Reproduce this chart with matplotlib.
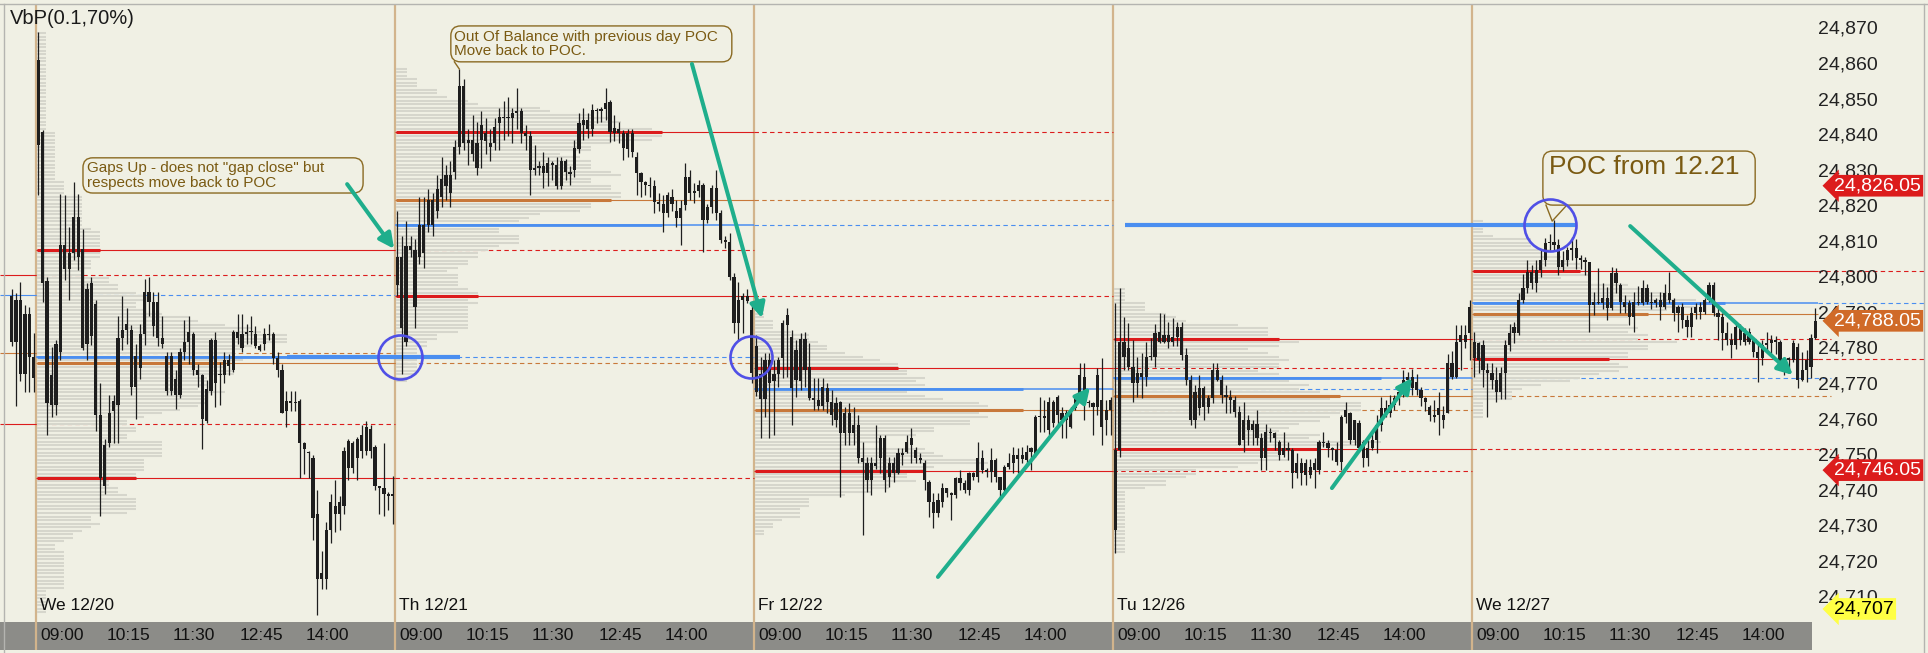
import numpy as np
import matplotlib
matplotlib.use("Agg")
import matplotlib.pyplot as plt
from matplotlib import font_manager
from matplotlib.patches import FancyBboxPatch, Rectangle
from matplotlib.lines import Line2D

# 5-minute bars, (open, high, low, close)
prev_bars = [  # end of 12/19
    (24795.0, 24797.0, 24781.0, 24782.0), (24782.0, 24796.0, 24764.0, 24794.0),
    (24794.0, 24799.0, 24771.0, 24773.0), (24773.0, 24792.5, 24768.0, 24790.0),
    (24790.0, 24792.0, 24768.0, 24778.0), (24778.0, 24784.6, 24768.0, 24772.0),
]
bars_1220 = [
    (24861.4, 24869.3, 24823.5, 24837.5), (24841.2, 24841.7, 24793.4, 24798.7), (24799.3, 24800.5, 24756.0, 24765.0),
    (24764.4, 24780.7, 24761.0, 24772.8), (24764.4, 24782.7, 24761.6, 24781.5), (24779.3, 24823.7, 24777.0, 24809.4),
    (24809.4, 24823.4, 24799.5, 24802.6), (24802.6, 24814.4, 24794.0, 24807.1), (24807.1, 24827.1, 24805.2, 24817.3),
    (24817.3, 24823.7, 24802.4, 24806.0), (24808.3, 24813.9, 24779.8, 24780.4), (24781.5, 24798.7, 24777.0, 24797.0),
    (24798.7, 24800.4, 24781.2, 24783.8), (24792.8, 24793.9, 24757.0, 24761.6), (24761.6, 24770.6, 24733.1, 24743.8),
    (24741.6, 24754.8, 24739.3, 24753.1), (24753.7, 24767.2, 24752.6, 24762.1), (24762.7, 24767.2, 24753.7, 24765.5),
    (24764.4, 24789.4, 24753.7, 24783.2), (24783.2, 24795.0, 24779.8, 24785.5), (24785.5, 24791.7, 24781.5, 24787.2),
    (24785.5, 24786.9, 24767.2, 24769.4), (24769.4, 24781.5, 24760.4, 24778.2), (24774.8, 24787.2, 24771.7, 24784.3),
    (24784.3, 24799.8, 24781.2, 24796.2), (24796.2, 24800.4, 24789.4, 24793.4), (24793.4, 24796.2, 24783.8, 24786.6),
    (24793.4, 24796.2, 24781.0, 24783.2), (24783.2, 24789.4, 24780.4, 24781.5), (24778.2, 24779.3, 24767.2, 24768.3),
    (24768.3, 24779.3, 24767.2, 24778.2), (24771.7, 24774.2, 24763.2, 24767.2), (24767.2, 24780.4, 24766.3, 24779.3),
    (24779.3, 24788.3, 24777.0, 24782.1), (24782.1, 24789.4, 24775.9, 24784.9), (24784.3, 24784.9, 24772.8, 24774.2),
    (24774.2, 24775.9, 24769.4, 24772.8), (24772.8, 24773.1, 24752.0, 24760.4), (24759.9, 24771.4, 24759.3, 24768.9),
    (24768.3, 24783.2, 24767.2, 24782.7), (24782.7, 24784.9, 24763.8, 24770.6), (24773.1, 24776.5, 24764.4, 24772.8),
    (24772.8, 24779.3, 24770.6, 24777.0), (24777.0, 24778.7, 24772.8, 24775.3), (24774.2, 24785.5, 24773.6, 24784.9),
    (24784.9, 24790.0, 24781.5, 24783.2), (24784.3, 24790.0, 24779.3, 24780.4), (24784.3, 24787.2, 24781.5, 24784.9),
    (24784.9, 24789.4, 24781.5, 24785.2), (24784.3, 24786.6, 24780.4, 24781.0), (24781.0, 24781.5, 24779.5, 24779.8),
    (24781.5, 24786.0, 24779.8, 24784.3), (24784.3, 24787.2, 24782.7, 24784.0), (24784.3, 24784.9, 24775.9, 24777.6),
    (24777.6, 24779.3, 24772.2, 24774.2), (24774.2, 24775.9, 24762.0, 24762.1), (24762.7, 24768.3, 24758.2, 24765.5),
    (24765.5, 24768.3, 24762.7, 24764.9), (24764.9, 24768.3, 24762.7, 24765.2), (24765.5, 24766.1, 24743.8, 24753.7),
    (24753.7, 24754.0, 24745.0, 24752.0), (24751.2, 24751.4, 24743.8, 24750.9), (24749.5, 24750.3, 24726.4, 24732.6),
    (24733.7, 24740.5, 24705.3, 24715.4), (24715.4, 24723.3, 24712.6, 24717.1), (24715.4, 24731.5, 24712.6, 24729.2),
    (24729.2, 24739.3, 24725.6, 24737.1), (24736.0, 24743.3, 24728.6, 24733.7), (24733.7, 24738.8, 24729.2, 24737.1),
    (24736.0, 24752.6, 24733.7, 24751.4), (24746.7, 24754.8, 24743.3, 24754.2), (24753.7, 24754.2, 24745.2, 24746.7),
    (24749.5, 24755.4, 24743.3, 24754.8), (24755.9, 24758.7, 24749.5, 24751.4), (24751.4, 24759.9, 24750.3, 24758.2),
    (24757.6, 24758.7, 24749.5, 24751.4), (24752.6, 24753.1, 24740.5, 24741.6), (24741.6, 24741.6, 24733.7, 24741.0),
    (24741.0, 24753.7, 24733.1, 24739.3), (24739.3, 24739.9, 24734.8, 24738.8), (24738.8, 24744.4, 24730.9, 24739.3),
]
bars_1221 = [
    (24806.0, 24819.0, 24795.0, 24798.0), (24806.0, 24812.0, 24773.0, 24786.0), (24782.0, 24816.0, 24781.0, 24809.0),
    (24809.0, 24812.0, 24806.0, 24808.0), (24808.0, 24811.0, 24786.0, 24792.0), (24806.0, 24823.0, 24804.0, 24815.0),
    (24807.0, 24823.0, 24803.0, 24815.0), (24815.0, 24825.0, 24813.0, 24822.0), (24822.0, 24824.0, 24812.0, 24815.0),
    (24819.0, 24829.0, 24817.0, 24825.0), (24823.0, 24834.0, 24820.0, 24828.0), (24826.0, 24832.0, 24822.0, 24829.0),
    (24829.0, 24833.0, 24820.0, 24824.0), (24830.0, 24839.0, 24828.0, 24837.0), (24837.0, 24859.0, 24835.0, 24854.0),
    (24854.0, 24856.0, 24836.0, 24838.0), (24838.0, 24842.0, 24832.0, 24839.0), (24839.0, 24846.0, 24833.0, 24835.0),
    (24838.0, 24844.0, 24829.0, 24831.0), (24839.0, 24847.0, 24831.0, 24843.0), (24841.0, 24845.0, 24835.0, 24838.5),
    (24838.0, 24842.0, 24833.0, 24837.0), (24838.0, 24845.0, 24836.0, 24842.6), (24843.7, 24848.0, 24836.0, 24845.5),
    (24845.0, 24850.0, 24839.0, 24845.5), (24845.5, 24851.0, 24840.0, 24845.0), (24845.0, 24848.0, 24838.0, 24846.5),
    (24846.5, 24853.5, 24842.0, 24847.0), (24847.0, 24848.0, 24838.0, 24841.0), (24841.0, 24843.0, 24836.0, 24840.0),
    (24840.0, 24841.5, 24823.5, 24830.5), (24830.5, 24837.5, 24829.0, 24831.0), (24831.0, 24833.0, 24829.0, 24831.5),
    (24831.5, 24835.5, 24825.4, 24829.6), (24829.5, 24834.0, 24826.0, 24832.5), (24832.5, 24833.0, 24827.7, 24832.0),
    (24832.0, 24834.0, 24825.0, 24826.0), (24826.0, 24834.0, 24825.0, 24833.0), (24833.0, 24833.5, 24827.7, 24830.0),
    (24830.0, 24831.5, 24826.3, 24829.3), (24830.5, 24839.0, 24828.5, 24836.7), (24836.5, 24846.5, 24835.3, 24843.7),
    (24843.0, 24848.0, 24839.0, 24844.5), (24844.5, 24846.5, 24839.5, 24842.0), (24842.0, 24849.0, 24840.0, 24847.4),
    (24847.4, 24848.0, 24843.7, 24847.0), (24847.0, 24848.2, 24844.0, 24847.5), (24847.5, 24853.5, 24844.6, 24849.3),
    (24849.5, 24850.2, 24838.4, 24841.2), (24841.0, 24846.0, 24838.5, 24842.3), (24842.0, 24844.0, 24838.0, 24841.0),
    (24841.0, 24841.7, 24833.3, 24836.7), (24836.5, 24842.0, 24834.0, 24841.0), (24841.0, 24842.0, 24834.0, 24835.5),
    (24834.0, 24835.5, 24823.5, 24829.6), (24829.5, 24830.0, 24823.0, 24827.0), (24827.0, 24827.5, 24823.5, 24826.3),
    (24826.3, 24828.5, 24823.0, 24826.0), (24826.0, 24827.7, 24818.4, 24821.5), (24821.5, 24824.0, 24819.0, 24821.0),
    (24821.0, 24823.4, 24813.0, 24818.4), (24818.5, 24824.3, 24817.3, 24823.4), (24823.0, 24825.0, 24819.0, 24821.0),
    (24819.0, 24822.0, 24814.4, 24817.0), (24817.0, 24822.0, 24809.4, 24819.8), (24820.6, 24832.5, 24819.2, 24828.5),
    (24828.5, 24830.5, 24822.0, 24824.0), (24824.0, 24826.8, 24821.2, 24824.5), (24824.5, 24827.7, 24823.0, 24826.3),
    (24826.3, 24826.8, 24807.4, 24816.4), (24816.4, 24821.0, 24815.5, 24820.0), (24820.0, 24826.3, 24818.4, 24825.4),
    (24825.4, 24830.5, 24816.4, 24818.4), (24818.4, 24819.2, 24810.0, 24810.8), (24810.8, 24812.0, 24808.5, 24810.2),
    (24810.2, 24812.8, 24799.5, 24800.4), (24800.4, 24801.5, 24784.6, 24787.4), (24787.4, 24799.0, 24782.7, 24793.9),
    (24793.9, 24796.0, 24784.6, 24795.0), (24795.0, 24797.0, 24793.0, 24793.5), (24791.0, 24793.0, 24770.6, 24773.4),
]
bars_1222 = [
    (24781.0, 24784.0, 24767.0, 24768.0), (24773.0, 24778.0, 24755.0, 24766.0), (24766.0, 24779.0, 24761.0, 24777.0),
    (24777.0, 24779.0, 24755.0, 24770.6), (24771.0, 24777.0, 24756.0, 24773.0), (24773.0, 24778.0, 24769.5, 24777.0),
    (24777.6, 24788.3, 24772.0, 24787.4), (24787.0, 24791.7, 24772.2, 24789.7), (24783.5, 24785.5, 24758.7, 24769.2),
    (24771.4, 24782.7, 24766.6, 24779.8), (24771.0, 24784.6, 24768.6, 24783.0), (24783.0, 24785.0, 24769.4, 24774.2),
    (24775.0, 24781.8, 24765.8, 24766.3), (24766.3, 24772.0, 24763.0, 24765.8), (24765.8, 24772.0, 24763.0, 24764.0),
    (24764.0, 24772.0, 24763.0, 24769.4), (24769.2, 24770.6, 24762.1, 24765.2), (24765.2, 24768.6, 24758.7, 24761.6),
    (24765.0, 24766.6, 24758.2, 24760.2), (24765.2, 24765.5, 24738.5, 24756.5), (24756.5, 24763.8, 24753.1, 24762.1),
    (24762.1, 24764.9, 24753.1, 24756.5), (24756.5, 24763.8, 24753.1, 24758.7), (24758.7, 24761.6, 24748.0, 24749.5),
    (24749.5, 24754.0, 24727.8, 24748.2), (24748.0, 24749.7, 24739.9, 24743.3), (24743.3, 24749.7, 24739.1, 24748.0),
    (24748.0, 24758.7, 24746.5, 24747.2), (24749.5, 24755.9, 24745.2, 24755.1), (24755.1, 24755.9, 24739.9, 24743.3),
    (24744.1, 24749.7, 24741.3, 24748.0), (24748.0, 24749.7, 24742.7, 24745.2), (24745.2, 24752.3, 24745.0, 24750.9),
    (24750.9, 24752.3, 24747.5, 24750.3), (24751.2, 24755.9, 24750.9, 24754.0), (24753.1, 24757.9, 24748.0, 24755.1),
    (24751.7, 24752.6, 24748.0, 24749.5), (24749.5, 24750.9, 24748.0, 24748.9), (24748.0, 24748.9, 24740.5, 24743.3),
    (24742.7, 24743.3, 24732.9, 24737.1), (24737.1, 24739.6, 24729.8, 24734.0), (24734.0, 24739.6, 24732.9, 24737.6),
    (24737.1, 24742.4, 24735.7, 24741.0), (24741.0, 24741.0, 24738.5, 24739.6), (24739.6, 24739.9, 24732.0, 24739.1),
    (24739.1, 24744.1, 24738.2, 24743.8), (24743.8, 24746.1, 24740.5, 24742.4), (24742.4, 24743.3, 24739.6, 24740.5),
    (24740.5, 24745.5, 24739.1, 24745.2), (24745.2, 24745.5, 24743.3, 24744.1), (24744.1, 24754.0, 24742.7, 24749.5),
    (24749.5, 24751.7, 24745.2, 24746.1), (24746.1, 24746.6, 24744.1, 24745.5), (24745.5, 24752.3, 24742.7, 24748.9),
    (24748.9, 24749.5, 24742.7, 24744.1), (24744.1, 24744.1, 24738.5, 24740.5), (24740.5, 24747.5, 24739.9, 24747.0),
    (24747.0, 24750.9, 24746.5, 24748.0), (24748.0, 24752.6, 24745.2, 24750.3), (24750.3, 24752.3, 24745.2, 24749.2),
    (24749.2, 24752.6, 24748.0, 24750.3), (24748.9, 24753.1, 24747.2, 24751.2), (24751.2, 24752.6, 24746.1, 24752.3),
    (24750.3, 24761.6, 24749.7, 24761.0), (24761.0, 24766.6, 24756.8, 24761.3), (24761.3, 24765.8, 24756.8, 24760.8),
    (24757.3, 24766.6, 24755.9, 24765.2), (24765.2, 24765.8, 24758.2, 24759.3), (24761.6, 24767.2, 24758.7, 24766.6),
    (24762.1, 24763.8, 24755.1, 24760.2), (24760.2, 24763.0, 24755.1, 24762.1), (24763.0, 24763.8, 24758.0, 24758.2),
    (24763.5, 24767.2, 24763.0, 24766.6), (24765.8, 24776.2, 24765.5, 24772.8), (24772.2, 24776.2, 24760.2, 24765.2),
    (24765.2, 24765.8, 24763.8, 24764.9), (24764.9, 24765.2, 24755.9, 24763.8), (24763.8, 24774.8, 24761.6, 24772.8),
    (24765.8, 24777.6, 24753.1, 24758.2), (24760.2, 24765.8, 24755.9, 24763.0), (24763.0, 24766.6, 24755.9, 24765.8),
]
bars_1226 = [
    (24751.7, 24793.0, 24722.7, 24729.2), (24751.7, 24797.3, 24749.7, 24782.1), (24782.1, 24789.1, 24774.2, 24777.9),
    (24780.4, 24787.4, 24774.2, 24775.0), (24775.0, 24782.7, 24765.2, 24770.6), (24770.6, 24777.9, 24766.6, 24773.4),
    (24773.4, 24779.0, 24766.3, 24772.2), (24772.2, 24782.1, 24769.7, 24777.9), (24777.9, 24783.2, 24777.0, 24778.0),
    (24778.0, 24787.2, 24775.0, 24784.6), (24784.9, 24790.3, 24781.8, 24782.1), (24782.1, 24790.0, 24781.8, 24784.1),
    (24784.1, 24787.7, 24780.5, 24782.1), (24782.1, 24788.9, 24781.0, 24783.5), (24783.5, 24787.7, 24781.0, 24786.3),
    (24786.3, 24787.7, 24777.0, 24778.4), (24778.4, 24780.4, 24770.0, 24771.4), (24771.4, 24772.8, 24758.7, 24760.2),
    (24760.2, 24770.0, 24757.9, 24768.0), (24763.5, 24772.8, 24761.6, 24769.2), (24769.2, 24769.7, 24760.2, 24763.8),
    (24763.8, 24767.2, 24762.0, 24766.3), (24766.3, 24776.2, 24765.0, 24774.2), (24774.2, 24776.2, 24771.0, 24771.4),
    (24771.4, 24772.8, 24765.0, 24767.2), (24767.2, 24770.0, 24762.1, 24766.6), (24766.6, 24768.6, 24762.0, 24765.8),
    (24765.8, 24767.0, 24761.0, 24762.4), (24762.4, 24764.0, 24753.0, 24753.1), (24754.5, 24765.2, 24751.2, 24760.2),
    (24760.2, 24761.6, 24753.0, 24757.3), (24757.3, 24760.2, 24753.0, 24759.0), (24759.0, 24763.0, 24753.0, 24755.1),
    (24755.1, 24756.5, 24746.1, 24749.5), (24749.5, 24759.0, 24746.1, 24756.8), (24756.8, 24757.9, 24754.0, 24756.5),
    (24756.5, 24756.8, 24751.7, 24755.1), (24754.0, 24754.5, 24748.9, 24750.3), (24750.3, 24756.8, 24749.7, 24752.3),
    (24752.3, 24754.0, 24748.9, 24751.7), (24751.7, 24752.3, 24741.0, 24745.2), (24748.0, 24750.9, 24743.8, 24745.2),
    (24745.2, 24749.5, 24741.9, 24748.0), (24748.0, 24749.2, 24741.9, 24744.7), (24744.7, 24749.2, 24743.8, 24747.0),
    (24746.1, 24749.5, 24741.0, 24748.0), (24746.1, 24754.5, 24745.0, 24754.0), (24754.0, 24756.8, 24752.6, 24753.7),
    (24753.7, 24754.5, 24749.7, 24752.3), (24752.3, 24752.6, 24748.9, 24751.7), (24751.7, 24754.0, 24747.5, 24748.3),
    (24748.3, 24761.6, 24746.1, 24761.0), (24761.0, 24765.2, 24759.3, 24763.0), (24762.1, 24762.5, 24753.3, 24754.5),
    (24754.5, 24760.2, 24753.0, 24760.2), (24759.3, 24760.2, 24751.5, 24752.3), (24754.0, 24754.5, 24747.0, 24749.5),
    (24749.5, 24754.5, 24747.3, 24752.3), (24752.3, 24756.8, 24751.7, 24754.5), (24754.5, 24761.6, 24750.9, 24758.7),
    (24758.7, 24766.6, 24757.0, 24763.5), (24763.5, 24765.8, 24761.0, 24762.1), (24762.1, 24767.2, 24761.0, 24764.4),
    (24764.4, 24767.2, 24763.0, 24766.3), (24766.3, 24770.0, 24764.5, 24768.0), (24768.0, 24774.2, 24766.6, 24771.4),
    (24771.4, 24773.7, 24770.0, 24772.2), (24769.2, 24774.5, 24767.2, 24772.2), (24770.8, 24773.0, 24767.2, 24768.6),
    (24768.6, 24769.5, 24764.0, 24766.3), (24766.3, 24766.6, 24762.6, 24765.2), (24763.8, 24764.4, 24760.0, 24761.6),
    (24761.6, 24765.8, 24759.6, 24761.0), (24761.6, 24768.0, 24755.9, 24763.5), (24761.6, 24764.0, 24758.0, 24760.2),
    (24762.1, 24778.7, 24762.0, 24776.2), (24776.2, 24779.6, 24771.8, 24772.2), (24772.2, 24786.9, 24771.9, 24782.1),
    (24782.1, 24786.9, 24774.2, 24784.1), (24784.1, 24786.9, 24780.4, 24782.1), (24784.6, 24793.9, 24777.0, 24792.0),
]
bars_1227 = [
    (24782.1, 24784.9, 24772.2, 24777.6), (24781.8, 24782.1, 24773.4, 24777.0), (24781.2, 24782.7, 24769.4, 24774.2),
    (24774.2, 24776.2, 24761.0, 24773.4), (24773.4, 24776.2, 24769.0, 24771.4), (24771.4, 24775.0, 24765.2, 24768.0),
    (24768.0, 24775.0, 24766.0, 24773.4), (24773.4, 24782.7, 24766.0, 24781.2), (24781.2, 24787.1, 24779.6, 24784.6),
    (24784.6, 24787.7, 24781.8, 24786.3), (24784.6, 24795.9, 24784.0, 24793.9), (24793.9, 24801.2, 24793.0, 24797.3),
    (24797.3, 24805.2, 24795.9, 24801.8), (24801.8, 24803.8, 24797.0, 24798.7), (24798.7, 24805.2, 24796.2, 24802.4),
    (24802.4, 24808.0, 24800.5, 24805.2), (24805.2, 24811.3, 24803.5, 24809.9), (24809.9, 24812.5, 24808.0, 24810.2),
    (24810.2, 24816.4, 24808.0, 24809.4), (24809.4, 24811.0, 24801.0, 24803.2), (24803.2, 24807.6, 24802.0, 24805.2),
    (24805.2, 24808.7, 24803.5, 24808.0), (24808.0, 24811.6, 24805.2, 24808.5), (24808.5, 24811.0, 24802.6, 24805.7),
    (24805.7, 24806.6, 24802.6, 24805.2), (24805.2, 24806.0, 24801.0, 24804.6), (24804.6, 24804.6, 24784.9, 24792.5),
    (24792.5, 24796.2, 24789.7, 24793.4), (24793.4, 24802.9, 24792.7, 24793.1), (24793.1, 24798.7, 24791.3, 24794.5),
    (24794.5, 24797.6, 24788.3, 24791.7), (24791.7, 24803.2, 24791.0, 24801.5), (24801.5, 24802.9, 24796.0, 24798.7),
    (24798.1, 24798.7, 24790.3, 24793.4), (24793.4, 24795.3, 24790.3, 24792.0), (24793.1, 24793.9, 24786.9, 24789.1),
    (24789.1, 24796.2, 24784.9, 24793.4), (24793.4, 24797.9, 24792.5, 24793.1), (24793.1, 24799.5, 24792.5, 24797.3),
    (24797.3, 24798.4, 24792.7, 24793.4), (24793.4, 24796.2, 24791.3, 24793.1), (24793.1, 24794.5, 24792.0, 24794.0),
    (24794.0, 24796.2, 24788.3, 24792.0), (24792.0, 24798.4, 24791.3, 24795.9), (24795.9, 24801.8, 24793.0, 24794.0),
    (24794.0, 24794.5, 24788.0, 24790.3), (24790.3, 24792.5, 24784.9, 24792.0), (24792.0, 24793.0, 24786.0, 24788.3),
    (24788.3, 24789.7, 24783.5, 24786.3), (24786.3, 24792.0, 24783.5, 24790.3), (24790.3, 24793.1, 24788.5, 24792.0),
    (24792.0, 24793.4, 24788.7, 24790.6), (24790.6, 24794.5, 24790.0, 24793.9), (24793.9, 24799.0, 24793.4, 24798.1),
    (24798.1, 24799.0, 24789.3, 24790.3), (24790.3, 24792.0, 24782.7, 24789.2), (24789.2, 24790.3, 24779.8, 24784.6),
    (24784.6, 24787.7, 24781.2, 24782.7), (24782.7, 24784.6, 24777.6, 24781.2), (24781.2, 24787.2, 24780.0, 24786.3),
    (24786.3, 24787.2, 24781.2, 24782.7), (24784.6, 24786.0, 24781.2, 24782.1), (24782.1, 24786.0, 24781.5, 24784.9),
    (24782.7, 24783.5, 24777.9, 24779.3), (24779.3, 24781.8, 24770.8, 24777.6), (24777.6, 24782.7, 24775.6, 24781.2),
    (24781.2, 24784.9, 24779.8, 24781.8), (24781.8, 24784.0, 24779.0, 24782.7), (24782.7, 24783.8, 24778.8, 24782.1),
    (24782.1, 24782.6, 24774.2, 24775.0), (24776.2, 24778.0, 24772.8, 24777.6), (24777.6, 24778.0, 24774.0, 24777.0),
    (24777.0, 24782.7, 24776.5, 24781.8), (24780.7, 24781.8, 24769.2, 24771.4), (24771.4, 24779.3, 24771.0, 24774.2),
    (24774.2, 24779.8, 24770.8, 24777.0), (24775.0, 24784.3, 24772.0, 24783.2), (24783.2, 24791.7, 24783.0, 24788.05),
]
sessions = [bars_1220, bars_1221, bars_1222, bars_1226, bars_1227]
bars_per_day = 81

day_labels = ["We 12/20", "Th 12/21", "Fr 12/22", "Tu 12/26", "We 12/27"]
time_labels = ["09:00", "10:15", "11:30", "12:45", "14:00"]
time_label_bars = [0, 15, 30, 45, 60]

# VbP levels per day: value area high, point of control, middle (orange), value area low
vah = [24808.0, 24841.2, 24774.8, 24783.0, 24802.2]
poc = [24778.0, 24815.0, 24768.9, 24772.0, 24793.1]
mid = [24776.2, 24822.0, 24763.0, 24766.9, 24790.0]
val = [24743.8, 24795.0, 24745.9, 24752.0, 24777.3]
prev_levels = [24801.0, 24795.3, 24779.0, 24759.0]  # 12/19 VAH, POC, mid, VAL

price_ticks = list(range(24870, 24709, -10))
tag_values = [24826.05, 24788.05, 24746.05, 24707.0]
tag_labels = ["24,826.05", "24,788.05", "24,746.05", "24,707"]

# ---- styles ----
BG = "#f0f0e4"
RED, BLUE, ORANGE = "#dc1c1c", "#4a8ef0", "#c8783a"
TEAL, CIRCLE = "#1fae8c", "#5050e6"
NOTE_TXT, NOTE_EDGE = "#7a5a12", "#8a6a22"
CANDLE = "#1e1e1e"
PROFILE = "#d6d6cc"
SEP = "#d2b48c"
BAR_PX = 4.432                       # pixels per 5-min bar
PROFILE_MAX_PX = [250, 266, 268, 267, 252]

avail = {f.name for f in font_manager.fontManager.ttflist}
plt.rcParams["font.family"] = ["Liberation Sans", "DejaVu Sans"]
if "Liberation Sans Narrow" in avail:
    time_font, time_size = ["Liberation Sans Narrow", "Liberation Sans"], 16
else:
    time_font, time_size = ["Liberation Sans", "DejaVu Sans"], 12.5

W, H = 1928, 653
fig = plt.figure(figsize=(W / 100, H / 100), dpi=100, facecolor=BG)
ax = fig.add_axes([0, 3 / H, 1, 645 / H])
ax.set_facecolor(BG)
x_left = -0.5 - 36 / BAR_PX
ax.set_xlim(x_left, x_left + W / BAR_PX)
ax.set_ylim(24695.45, 24876.89)
ax.set_axis_off()

starts = [k * bars_per_day for k in range(len(sessions))]
ends = [s + len(b) for s, b in zip(starts, sessions)]
last_x = ends[-1] - 0.5

# time band and day separators
ax.add_patch(Rectangle((0, 0), 1812 / W, 28 / 645, transform=ax.transAxes,
                       fc="#8c8c88", ec="none", zorder=1))
for s in starts:
    ax.axvline(s - 0.5, color=SEP, lw=1.6, zorder=1.5)

dash = (0, (4, 3))


def draw_levels(x0, x1, levels, lw_thin=0.8, ls="-"):
    for v, c in zip(levels, [RED, BLUE, ORANGE, RED]):
        ax.hlines(v, x0, x1, color=c, lw=lw_thin, linestyle=ls, zorder=1.8)


# 12/19 levels at the left edge, then dashed into 12/20
draw_levels(x_left, -0.5, prev_levels)
draw_levels(-0.5, ends[0] - 0.5, prev_levels, ls=dash)

for k, bars in enumerate(sessions):
    b = np.array(bars)
    x0 = starts[k] - 0.5
    x1 = ends[k] - 0.5 if k < len(sessions) - 1 else last_x
    # volume-by-price profile (time at price, 1 point bins)
    lev = np.arange(np.floor(b[:, 2].min()), np.ceil(b[:, 1].max()) + 1)
    cnt = np.array([np.sum((b[:, 2] <= v) & (b[:, 1] >= v)) for v in lev])
    width = cnt / cnt.max() * PROFILE_MAX_PX[k] / BAR_PX
    ax.hlines(lev, x0 + 0.3, x0 + 0.3 + width, color=PROFILE, lw=1.45, zorder=2)

    def w_at(v):
        return width[np.argmin(np.abs(lev - v))]

    for v, c in [(vah[k], RED), (mid[k], ORANGE), (val[k], RED)]:
        ax.hlines(v, x0, x1, color=c, lw=0.8, zorder=2.5)
        ax.hlines(v, x0 + 0.3, x0 + 0.3 + w_at(v), color=c, lw=2.2, zorder=2.6)
    ax.hlines(poc[k], x0, x1, color=BLUE, lw=1.1, zorder=2.5)
    ax.hlines(poc[k], x0 + 0.3, x0 + 0.3 + width.max(), color=BLUE, lw=2.0, zorder=2.6)
    # previous day's levels, dashed
    if k > 0:
        pe = ends[k] - 0.5 if k < len(sessions) - 1 else last_x + 3
        draw_levels(x0, pe, [vah[k - 1], poc[k - 1], mid[k - 1], val[k - 1]], ls=dash)

# current day's levels run on past the last bar
ax.hlines([vah[-1], poc[-1], val[-1]], last_x, last_x + 24, color=[RED, BLUE, RED],
          lw=0.8, linestyle=dash, zorder=1.8)

# candles
all_bars = prev_bars + [bar for bars in sessions for bar in bars]
idx = np.concatenate([np.arange(-len(prev_bars), 0)] +
                     [np.arange(s, e) for s, e in zip(starts, ends)])
o, h, l, c = np.array(all_bars).T
ax.vlines(idx, l, h, color=CANDLE, lw=0.9, zorder=5)
ax.bar(idx, np.maximum(np.abs(c - o), 0.35), bottom=np.minimum(o, c), width=0.72,
       color=CANDLE, linewidth=0, zorder=5)

# labels on the time band
xt = ax.get_xaxis_transform()
for s, d in zip(starts, day_labels):
    ax.text(s + 0.4, 44 / 645, d, transform=xt, ha="left", va="center",
            family=time_font, fontsize=time_size, color="#111111", zorder=6)
    for t, lab in zip(time_label_bars, time_labels):
        ax.text(s + t + 0.4, 14 / 645, lab, transform=xt, ha="left", va="center",
                family=time_font, fontsize=time_size, color="#111111", zorder=6)

# price axis
yt = ax.get_yaxis_transform()
for v in price_ticks:
    ax.text(1818 / W, v, f"{v:,}", transform=yt, ha="left", va="center",
            fontsize=14, color="#222222", zorder=6)
for v, lab, fc, tc in zip(tag_values, tag_labels, [RED, "#d06a28", RED, "#ffff44"],
                          ["white", "white", "white", "black"]):
    ax.text(1834 / W, v, lab, transform=yt, ha="left", va="center", fontsize=14,
            color=tc, zorder=10,
            bbox=dict(boxstyle="larrow,pad=0.12", fc=fc, ec="none"))

ax.text(10 / W, 1 - 13 / 645, "VbP(0.1,70%)", transform=ax.transAxes, ha="left",
        va="center", fontsize=14.5, color="#1a1a1a", zorder=6)

# ---- hand-drawn notes ----
fig.canvas.draw()
bb = ax.get_window_extent()
aspect = (bb.width / np.diff(ax.get_xlim())[0]) / (bb.height / np.diff(ax.get_ylim())[0])


def note_box(x0, y0, x1, y1):
    ax.add_patch(FancyBboxPatch((x0, y0), x1 - x0, y1 - y0,
                                boxstyle="round,pad=0,rounding_size=2.2",
                                mutation_aspect=aspect, fc=BG, ec=NOTE_EDGE,
                                lw=1.0, zorder=7))


note_box(10.1, 24824.0, 73.3, 24833.9)
ax.text(11.0, 24828.9, 'Gaps Up - does not "gap close" but\nrespects move back to POC',
        ha="left", va="center", fontsize=11, linespacing=1.05, color=NOTE_TXT, zorder=8)

note_box(93.1, 24860.9, 156.5, 24871.0)
ax.text(93.8, 24865.9, "Out Of Balance with previous day POC\nMove back to POC.",
        ha="left", va="center", fontsize=11, linespacing=1.05, color=NOTE_TXT, zorder=8)
ax.plot([93.9, 95.0], [24860.9, 24858.9], color=NOTE_EDGE, lw=1.0, zorder=8)

note_box(339.5, 24820.6, 387.4, 24835.8)
ax.text(340.8, 24831.2, "POC from 12.21", ha="left", va="center", fontsize=19,
        color=NOTE_TXT, zorder=8)
ax.plot([340.2, 341.6, 344.9], [24820.6, 24816.1, 24820.6], color=NOTE_EDGE,
        lw=1.0, zorder=8)

# extended POC lines drawn by hand
ax.hlines(poc[0], 56.1, 95.2, color=BLUE, lw=3.0, zorder=4)
ax.hlines(poc[1], 245.2, 347.2, color=BLUE, lw=3.0, zorder=4)

for (cx, cy), r in [((81.6, 24777.9), 22), ((160.8, 24777.9), 21), ((341.1, 24815.0), 26)]:
    ax.plot(cx, cy, "o", ms=2 * r * 0.72, mfc="none", mec=CIRCLE, mew=1.9, zorder=9)

arrows = [((69.7, 24826.5), (80.3, 24808.3)), ((147.5, 24860.3), (163.3, 24788.8)),
          ((203.0, 24716.0), (237.3, 24769.4)), ((291.9, 24741.0), (310.0, 24772.0)),
          ((359.2, 24814.7), (395.9, 24772.8))]
for start, tip in arrows:
    ax.annotate("", xy=tip, xytext=start, zorder=9,
                arrowprops=dict(arrowstyle="-|>,head_length=0.9,head_width=0.45",
                                color=TEAL, lw=2.9, shrinkA=0, shrinkB=0))

# frame lines
for x in (4 / W, 1924 / W):
    fig.add_artist(Line2D([x, x], [0, 1 - 4 / H], color="#b4b4b0", lw=1))
fig.add_artist(Line2D([0, 1], [1 - 4 / H] * 2, color="#b4b4b0", lw=1))

fig.savefig("out.png", dpi=100, facecolor=BG)
